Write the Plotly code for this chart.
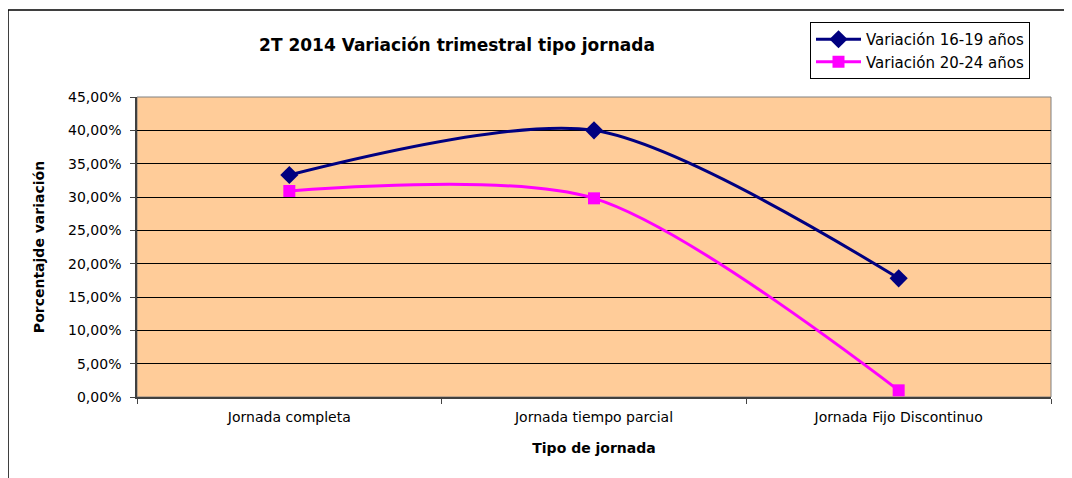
import plotly.graph_objects as go

categorias = ["Jornada completa", "Jornada tiempo parcial", "Jornada Fijo Discontinuo"]
var_16_19 = [0.333, 0.400, 0.178]
var_20_24 = [0.309, 0.298, 0.010]

# la página añade 8px de margen al cuerpo: se descuenta aquí
OFF = 8
W, H = 1072 - OFF, 478 - OFF
L, T = 137 - OFF, 97 - OFF
R, B = W - (1051 - OFF), H - (397 - OFF)
pw, ph = W - L - R, H - T - B


def px(x):
    return (x - OFF - L) / pw


def py(y):
    return (H - B - (y - OFF)) / ph


fig = go.Figure()
fig.add_trace(go.Scatter(
    x=categorias, y=var_16_19, name="Variación 16-19 años",
    mode="lines+markers", line=dict(color="#000080", width=3, shape="spline", smoothing=0.8),
    marker=dict(symbol="diamond", size=14, color="#000080"),
))
fig.add_trace(go.Scatter(
    x=categorias, y=var_20_24, name="Variación 20-24 años",
    mode="lines+markers", line=dict(color="#FF00FF", width=3, shape="spline", smoothing=0.8),
    marker=dict(symbol="square", size=12, color="#FF00FF"),
))

font = "DejaVu Sans, sans-serif"
fig.update_layout(
    width=W, height=H, separators=",.",
    margin=dict(l=L, r=R, t=T, b=B),
    paper_bgcolor="white", plot_bgcolor="#FFCC99",
    font=dict(family=font, size=14, color="black"),
    title=dict(text="<b>2T 2014 Variación trimestral tipo jornada</b>",
               x=(457 - OFF) / W, xanchor="center", y=1 - (45 - OFF) / H, yanchor="middle",
               font=dict(size=17)),
    legend=dict(x=px(810), y=py(22), xanchor="left", yanchor="top",
                bordercolor="black", borderwidth=1, bgcolor="white",
                font=dict(size=15), tracegroupgap=0, itemwidth=45),
    xaxis=dict(type="category", tickson="boundaries", ticks="outside", ticklen=5,
               range=[-0.5, 2.5], ticklabelstandoff=6,
               showline=True, linecolor="#404040", linewidth=1.5, mirror=False,
               showgrid=False,
               title=dict(text="<b>Tipo de jornada</b>", font=dict(size=14), standoff=20)),
    yaxis=dict(range=[0, 0.45], dtick=0.05, tickformat=".2%", ticks="outside", ticklen=5,
               ticklabelstandoff=6,
               showline=True, linecolor="#404040", linewidth=1.5,
               showgrid=True, gridcolor="black", gridwidth=1, zeroline=False,
               title=dict(text="<b>Porcentajde variación</b>", font=dict(size=14), standoff=20)),
    showlegend=True,
)
# borde del área de trazado
fig.add_shape(type="rect", xref="paper", yref="paper", x0=0, y0=0, x1=1, y1=1,
              line=dict(color="#808080", width=1), layer="below")
# borde del gráfico
fig.add_shape(type="rect", xref="paper", yref="paper",
              x0=px(8), y0=py(485), x1=px(1085), y1=py(10),
              line=dict(color="black", width=1.5))

fig.write_html("out.html")
